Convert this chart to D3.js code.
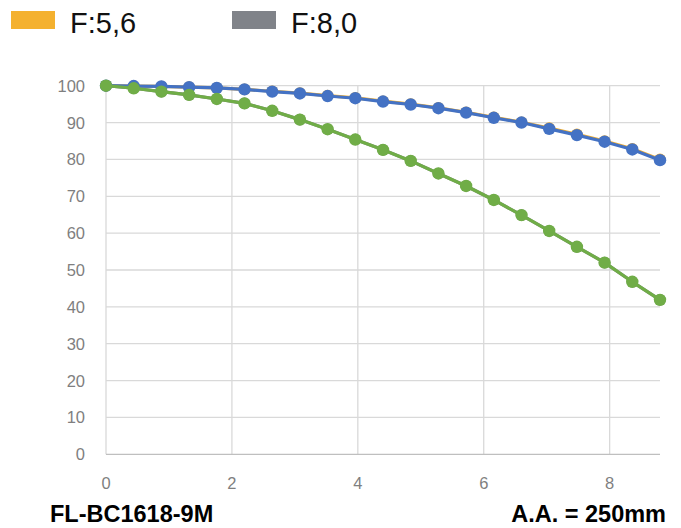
<!DOCTYPE html>
<html><head><meta charset="utf-8">
<script src="https://cdn.jsdelivr.net/npm/d3@7"></script>
<style>body{margin:0;background:#fff}svg{display:block;font-family:"Liberation Sans",Arial,sans-serif}</style>
</head><body><svg id="c" width="681" height="528"></svg>
<script>
const xValues = [0,0.44,0.88,1.32,1.76,2.2,2.64,3.08,3.52,3.96,4.4,4.84,5.28,5.72,6.16,6.6,7.04,7.48,7.92,8.36,8.8];
const seriesF56 = [100,99.9,99.8,99.6,99.4,99.0,98.5,98.0,97.3,96.7,95.8,95.0,94.0,92.8,91.4,90.1,88.5,86.8,85.0,82.9,80.0];
const seriesBlue = [100,99.9,99.8,99.6,99.4,99.0,98.4,97.9,97.2,96.6,95.7,94.9,93.9,92.7,91.3,90.0,88.3,86.6,84.8,82.7,79.8];
const seriesGreen = [100,99.3,98.4,97.5,96.4,95.2,93.2,90.8,88.2,85.4,82.6,79.6,76.2,72.8,69.0,64.9,60.6,56.3,52.0,46.8,41.9];
const seriesF80 = seriesGreen.slice();
const xTicks = [0,2,4,6,8];
const yTicks = [0,10,20,30,40,50,60,70,80,90,100];
const legendLabels = ["F:5,6","F:8,0"];
const footLeft = "FL-BC1618-9M";
const footRight = "A.A. = 250mm";

(function(){
const svg = d3.select("#c");
const L = 106, R = 660, T = 85.7, B = 454.3;
const x = d3.scaleLinear().domain([0,8.8]).range([L,R]);
const y = d3.scaleLinear().domain([0,100]).range([B,T]);

svg.append("g").selectAll("line").data(yTicks.filter(d=>d>0)).join("line")
  .attr("x1",L).attr("x2",R).attr("y1",d=>y(d)).attr("y2",d=>y(d))
  .attr("stroke","#d9d9d9").attr("stroke-width",1.3);
svg.append("g").selectAll("line").data(xTicks).join("line")
  .attr("x1",d=>x(d)).attr("x2",d=>x(d)).attr("y1",T).attr("y2",B)
  .attr("stroke","#d9d9d9").attr("stroke-width",1.3);
svg.append("line").attr("x1",L).attr("x2",R).attr("y1",y(0)).attr("y2",y(0))
  .attr("stroke","#bfbfbf").attr("stroke-width",1.3);

svg.append("g").selectAll("text").data(yTicks).join("text")
  .attr("x",85).attr("y",d=>y(d)).attr("dy","0.36em").attr("text-anchor","end")
  .attr("font-size",16.5).attr("fill","#7f7f7f").text(d=>d);
svg.append("g").selectAll("text").data(xTicks).join("text")
  .attr("x",d=>x(d)).attr("y",489).attr("text-anchor","middle")
  .attr("font-size",16.5).attr("fill","#7f7f7f").text(d=>d);

const line = d3.line().x((d,i)=>x(xValues[i])).y(d=>y(d));
function drawSeries(vals,color,r){
  const g = svg.append("g");
  g.append("path").datum(vals).attr("d",line).attr("fill","none")
    .attr("stroke",color).attr("stroke-width",3.2).attr("stroke-linejoin","round");
  g.selectAll("circle").data(vals).join("circle")
    .attr("cx",(d,i)=>x(xValues[i])).attr("cy",d=>y(d)).attr("r",r).attr("fill",color);
}
drawSeries(seriesF80,"#7f8289",5.8);
drawSeries(seriesF56,"#f2ae2e",5.8);
drawSeries(seriesBlue,"#4472c4",6.2);
drawSeries(seriesGreen,"#70ad47",6.2);

const legColors = ["#f4b12f","#808389"];
const legX = [11,232];
legendLabels.forEach((t,i)=>{
  svg.append("rect").attr("x",legX[i]).attr("y",11).attr("width",44).attr("height",18).attr("fill",legColors[i]);
  svg.append("text").attr("x",legX[i]+59).attr("y",32.5).attr("font-size",29).attr("fill","#111").text(t);
});

svg.append("text").attr("x",50).attr("y",522).attr("font-size",23.5).attr("font-weight","bold").attr("fill","#000").text(footLeft);
svg.append("text").attr("x",666).attr("y",522).attr("text-anchor","end").attr("font-size",23.5).attr("font-weight","bold").attr("fill","#000").text(footRight);
})();
</script></body></html>
